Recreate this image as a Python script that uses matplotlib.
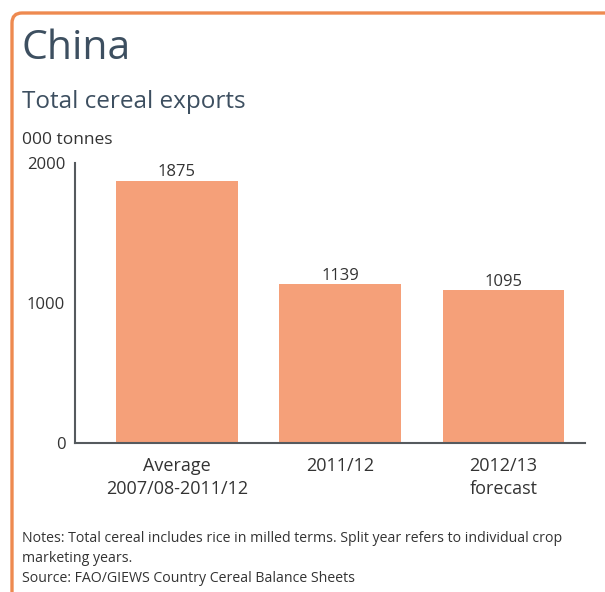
import matplotlib.pyplot as plt
import numpy as np
from matplotlib.patches import FancyBboxPatch

plt.rcParams['font.family'] = ['Open Sans', 'DejaVu Sans']

categories = ['Average\n2007/08-2011/12', '2011/12', '2012/13\nforecast']
values = [1875, 1139, 1095]
yticks = [0, 1000, 2000]

W, H = 605, 592
fig = plt.figure(figsize=(W / 100, H / 100), dpi=100)

# orange frame, open on the right and bottom
frame = FancyBboxPatch((12, -40), 700, H - 13 + 40, transform=None,
                       boxstyle='round,pad=0,rounding_size=10',
                       facecolor='none', edgecolor='#EE8A50', linewidth=2.4)
fig.patches.append(frame)

ax = fig.add_axes([75 / W, 1 - 443 / H, (585 - 75) / W, (443 - 163) / H])
x = np.arange(len(categories))
ax.bar(x, values, width=0.745, color='#F5A079')
for xi, v in zip(x, values):
    ax.annotate(str(v), (xi, v), xytext=(0, 0), textcoords='offset points',
                ha='center', va='bottom', fontsize=12, color='#333333')

ax.set_xlim(-0.625, 2.5)
ax.set_ylim(0, 2000)
ax.set_yticks(yticks)
ax.set_yticklabels([str(t) for t in yticks], fontsize=12, color='#333333')
ax.set_xticks(x)
ax.set_xticklabels(categories, fontsize=13, color='#333333', linespacing=1.4)
ax.tick_params(axis='both', length=0)
ax.tick_params(axis='y', pad=7)
ax.tick_params(axis='x', pad=10)
for s in ['top', 'right']:
    ax.spines[s].set_visible(False)
for s in ['left', 'bottom']:
    ax.spines[s].set_color('#555a5e')
    ax.spines[s].set_linewidth(1.5)

fig.text(22 / W, 1 - 49 / H, 'China', fontsize=29.5, color='#3D4F60', va='center')
fig.text(22 / W, 1 - 102 / H, 'Total cereal exports', fontsize=17.5, color='#3D4F60',
         va='center')
fig.text(22 / W, 1 - 140 / H, '000 tonnes', fontsize=12.5, color='#333333', va='center')

notes = ('Notes: Total cereal includes rice in milled terms. Split year refers to individual crop\n'
         'marketing years.\n'
         'Source: FAO/GIEWS Country Cereal Balance Sheets')
fig.text(22 / W, 1 - 531 / H, notes, fontsize=10.2, color='#333333', va='top',
         linespacing=1.45)

plt.savefig('out.png', dpi=100)
